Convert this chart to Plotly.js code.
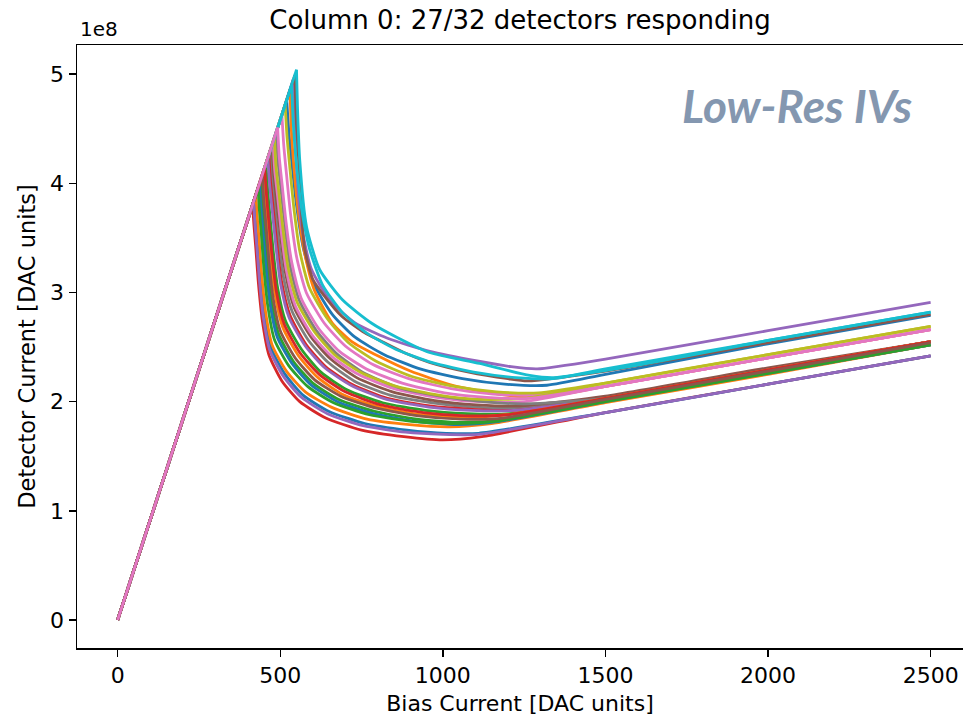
<!DOCTYPE html>
<html>
<head>
<meta charset="utf-8">
<script src="https://cdn.plot.ly/plotly-3.0.1.min.js"></script>
<style>html,body{margin:0;padding:0;background:#fff;}#chart{width:963px;height:719px;}</style>
</head>
<body>
<div id="chart"></div>
<script>
// Bias current [DAC units] for each of the 27 responding detectors
const biasX = [
  [0,520,527,537,550,570,603,660,730,820,930,1060,1190,1320,1500,2000,2500],
  [0,530,534,542,555,575,605,660,720,806,900,1030,1170,1300,1500,2000,2500],
  [0,440,444,451,460,473,495,540,600,680,790,920,1050,1180,1500,2000,2500],
  [0,415,419,425,433,445,465,505,560,640,750,880,1000,1120,1500,2000,2500],
  [0,540,544,550,565,595,652,730,830,960,1110,1210,1290,1500,2000,2500],
  [0,545,549,557,566,575,600,630,690,760,806,880,959,1080,1200,1260,1500,2000,2500],
  [0,505,511,520,532,550,580,635,700,785,895,1025,1155,1285,1500,2000,2500],
  [0,470,475,483,494,510,536,587,647,727,837,967,1097,1227,1500,2000,2500],
  [0,515,521,530,542,560,590,645,710,795,905,1035,1165,1295,1500,2000,2500],
  [0,550,553,560,581,621,692,780,858,959,1113,1267,1340,1574,2000,2500],
  [0,422,426,432,440,452,472,515,570,650,760,890,1010,1110,1500,2000,2500],
  [0,425,429,435,443,455,475,519,577,657,767,897,1020,1150,1500,2000,2500],
  [0,456,461,468,478,492,516,565,625,705,815,945,1075,1205,1500,2000,2500],
  [0,465,470,478,489,504,530,580,640,720,830,960,1090,1220,1500,2000,2500],
  [0,462,467,475,486,501,527,577,637,717,827,957,1087,1217,1500,2000,2500],
  [0,475,480,488,500,516,543,595,655,735,845,975,1105,1235,1500,2000,2500],
  [0,478,483,492,503,519,546,598,660,740,850,980,1110,1250,1500,2000,2500],
  [0,488,493,502,514,530,558,611,673,753,863,993,1123,1253,1500,2000,2500],
  [0,482,487,496,508,524,552,605,667,747,857,987,1117,1257,1500,2000,2500],
  [0,535,540,549,565,590,630,690,765,855,965,1095,1225,1340,1500,2000,2500],
  [0,436,440,447,456,469,491,536,596,676,786,916,1045,1175,1500,2000,2500],
  [0,448,453,460,470,484,508,556,616,696,806,936,1066,1196,1500,2000,2500],
  [0,432,436,442,450,462,482,526,584,664,774,904,1030,1160,1500,2000,2500],
  [0,452,457,464,474,488,512,560,620,700,810,940,1070,1200,1500,2000,2500],
  [0,418,422,428,436,448,468,510,565,645,755,885,1000,1110,1500,2000,2500],
  [0,445,449,456,465,478,500,546,606,686,796,926,1056,1186,1500,2000,2500],
  [0,492,497,506,518,535,564,618,682,765,875,1005,1135,1265,1500,2000,2500]
];
// Detector current, in units of 1e8 [DAC units]
const detY = [
  [0,4.76,4.45,4.15,3.80,3.42,3.08,2.80,2.59,2.43,2.30,2.21,2.16,2.15,2.25,2.53,2.79],
  [0,4.86,4.50,4.15,3.75,3.36,3.02,2.72,2.55,2.41,2.28,2.15,2.07,2.04,2.14,2.40,2.66],
  [0,4.03,3.82,3.58,3.26,2.92,2.62,2.37,2.17,2.02,1.91,1.84,1.81,1.83,2.00,2.26,2.52],
  [0,3.80,3.62,3.40,3.08,2.74,2.43,2.19,2.00,1.85,1.74,1.68,1.65,1.68,1.90,2.16,2.42],
  [0,4.95,4.60,4.15,3.62,3.22,2.93,2.72,2.58,2.46,2.37,2.32,2.30,2.39,2.65,2.91],
  [0,4.99,4.60,4.20,3.70,3.40,3.12,2.99,2.78,2.63,2.56,2.45,2.36,2.27,2.21,2.19,2.28,2.54,2.80],
  [0,4.63,4.34,4.06,3.71,3.33,3.00,2.72,2.51,2.34,2.21,2.12,2.07,2.06,2.14,2.40,2.66],
  [0,4.31,4.06,3.82,3.50,3.14,2.83,2.56,2.36,2.19,2.06,1.99,1.95,1.94,2.03,2.29,2.55],
  [0,4.72,4.42,4.13,3.77,3.38,3.04,2.76,2.54,2.37,2.23,2.14,2.09,2.08,2.17,2.43,2.69],
  [0,5.04,4.70,4.21,3.60,3.21,2.93,2.72,2.59,2.45,2.35,2.24,2.22,2.32,2.56,2.82],
  [0,3.87,3.67,3.45,3.13,2.79,2.49,2.25,2.06,1.91,1.80,1.74,1.71,1.71,1.90,2.16,2.42],
  [0,3.89,3.70,3.48,3.16,2.82,2.52,2.28,2.09,1.95,1.84,1.79,1.77,1.80,1.99,2.25,2.52],
  [0,4.18,3.95,3.71,3.39,3.04,2.74,2.48,2.27,2.11,1.99,1.92,1.89,1.89,2.03,2.29,2.55],
  [0,4.26,4.02,3.78,3.46,3.10,2.79,2.52,2.32,2.16,2.03,1.96,1.93,1.92,2.03,2.29,2.55],
  [0,4.23,4.00,3.76,3.44,3.08,2.77,2.51,2.31,2.15,2.02,1.95,1.92,1.92,2.03,2.29,2.55],
  [0,4.35,4.10,3.86,3.54,3.18,2.86,2.59,2.39,2.22,2.09,2.01,1.97,1.96,2.05,2.31,2.55],
  [0,4.38,4.12,3.88,3.56,3.20,2.88,2.61,2.41,2.25,2.12,2.04,2.00,2.00,2.14,2.40,2.66],
  [0,4.47,4.20,3.95,3.62,3.25,2.93,2.65,2.44,2.27,2.13,2.05,2.00,1.98,2.03,2.29,2.55],
  [0,4.42,4.15,3.91,3.59,3.23,2.91,2.64,2.43,2.27,2.14,2.06,2.02,2.03,2.17,2.43,2.69],
  [0,4.90,4.55,4.20,3.78,3.40,3.07,2.82,2.63,2.48,2.36,2.27,2.22,2.21,2.30,2.56,2.82],
  [0,3.99,3.79,3.55,3.23,2.89,2.59,2.35,2.15,2.00,1.89,1.82,1.79,1.82,2.00,2.26,2.52],
  [0,4.10,3.89,3.65,3.33,2.98,2.68,2.42,2.22,2.06,1.95,1.88,1.86,1.88,2.03,2.29,2.55],
  [0,3.96,3.75,3.53,3.21,2.87,2.57,2.33,2.14,1.99,1.88,1.82,1.80,1.82,2.00,2.26,2.52],
  [0,4.14,3.92,3.68,3.36,3.01,2.71,2.45,2.25,2.09,1.97,1.90,1.87,1.88,2.03,2.29,2.55],
  [0,3.83,3.64,3.42,3.11,2.77,2.47,2.23,2.04,1.89,1.78,1.72,1.70,1.70,1.90,2.16,2.42],
  [0,4.08,3.86,3.62,3.30,2.95,2.65,2.40,2.20,2.05,1.94,1.87,1.84,1.85,2.02,2.28,2.54],
  [0,4.51,4.24,3.98,3.64,3.28,2.95,2.67,2.46,2.30,2.17,2.08,2.04,2.03,2.14,2.40,2.66]
];
const colorCycle = ['#1f77b4','#ff7f0e','#2ca02c','#d62728','#9467bd','#8c564b','#e377c2','#7f7f7f','#bcbd22','#17becf'];
const yTickVals = [0,1,2,3,4,5];
const xTickVals = [0,500,1000,1500,2000,2500];

// Each detector: straight superconducting branch (first two points) drawn linear,
// the transition + normal branch drawn with a light spline; both from the same arrays.
const traces = [];
biasX.forEach((xs, i) => {
  const c = colorCycle[i % colorCycle.length];
  const ys = detY[i];
  traces.push({type: 'scatter', mode: 'lines', x: xs.slice(0, 2), y: ys.slice(0, 2),
    line: {color: c, width: 2.8}, hoverinfo: 'skip', showlegend: false});
  traces.push({type: 'scatter', mode: 'lines', x: xs.slice(1), y: ys.slice(1),
    line: {color: c, width: 2.8, shape: 'spline', smoothing: 0.6}, hoverinfo: 'skip', showlegend: false});
});

const fontFam = 'DejaVu Sans, sans-serif';
const layout = {
  width: 963, height: 719,
  margin: {l: 77, r: 0, t: 45, b: 71, pad: 0},
  paper_bgcolor: '#fff', plot_bgcolor: '#fff',
  showlegend: false,
  title: {text: 'Column 0: 27/32 detectors responding', font: {family: fontFam, size: 26, color: '#000'},
          x: 0.5, xref: 'paper', xanchor: 'center', y: 0.973, yref: 'container', yanchor: 'middle'},
  xaxis: {range: [-125, 2599.5], tickvals: xTickVals, ticks: 'outside', ticklen: 7, tickwidth: 1.3, tickcolor: '#000',
          showline: true, linecolor: '#000', linewidth: 1.5, mirror: true, showgrid: false, zeroline: false,
          tickfont: {family: fontFam, size: 22, color: '#000'}, automargin: false,
          title: {text: 'Bias Current [DAC units]', font: {family: fontFam, size: 22, color: '#000'}, standoff: 8}},
  yaxis: {range: [-0.256, 5.266], tickvals: yTickVals, ticks: 'outside', ticklen: 7, tickwidth: 1.3, tickcolor: '#000',
          showline: true, linecolor: '#000', linewidth: 1.5, mirror: false, showgrid: false, zeroline: false,
          tickfont: {family: fontFam, size: 22, color: '#000'}, automargin: false,
          title: {text: 'Detector Current [DAC units]', font: {family: fontFam, size: 22.5, color: '#000'}, standoff: 8}},
  annotations: [
    {text: '1e8', xref: 'paper', yref: 'paper', x: 0, y: 1, xanchor: 'left', yanchor: 'bottom', xshift: 1, yshift: 2,
     showarrow: false, font: {family: fontFam, size: 20, color: '#000'}},
    {text: '<b><i>Low-Res IVs</i></b>', xref: 'paper', yref: 'paper', x: 0.946, y: 0.899, xanchor: 'right', yanchor: 'middle',
     showarrow: false, font: {family: 'Lato, Open Sans, sans-serif', size: 46, color: '#8497b0'}}
  ]
};
Plotly.newPlot('chart', traces, layout, {displayModeBar: false, staticPlot: true});
</script>
</body>
</html>
